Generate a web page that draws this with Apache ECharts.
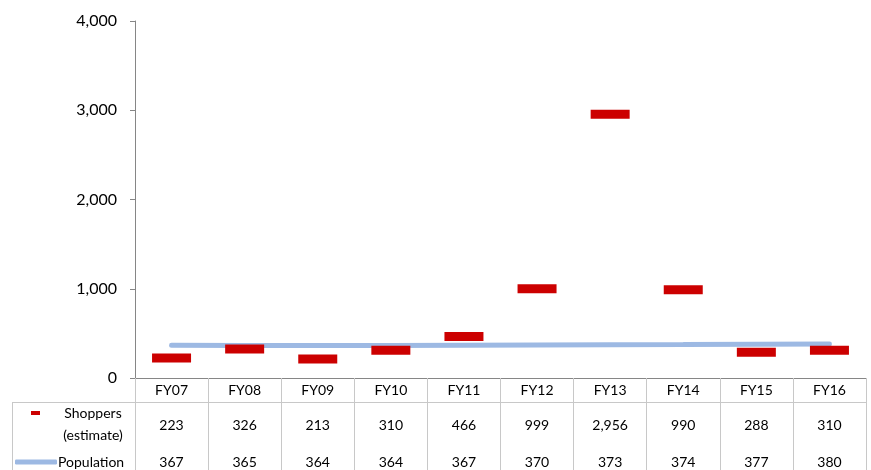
<!DOCTYPE html>
<html><head><meta charset="utf-8">
<script src="https://cdn.jsdelivr.net/npm/echarts@6/dist/echarts.min.js"></script>
<style>html,body{margin:0;padding:0;background:#fff}#c{width:871px;height:470px}</style>
</head><body><div id="c"></div>
<script>
const categories = ['FY07','FY08','FY09','FY10','FY11','FY12','FY13','FY14','FY15','FY16'];
const shoppers = [223, 326, 213, 310, 466, 999, 2956, 990, 288, 310];
const population = [367, 365, 364, 364, 367, 370, 373, 374, 377, 380];
const yTicks = [0, 1000, 2000, 3000, 4000];

const FONT = 'Lato';
const fmt = v => v.toLocaleString('en-US');
const chart = echarts.init(document.getElementById('c'));
chart.setOption({
  animation: false,
  textStyle: {fontFamily: FONT},
  grid: {left: 135, right: 5, top: 21, bottom: 92, containLabel: false},
  legend: [
    {data: [{name: 'Shoppers (estimate)', icon: 'rect'}], left: 26, top: 379,
     itemWidth: 9, itemHeight: 4, padding: 5,
     formatter: () => '{a| }\n{a|Shoppers}\n{a|(estimate)}',
     textStyle: {rich: {a: {width: 96, align: 'center', fontSize: 14, lineHeight: 22, color: '#000', fontFamily: FONT}}}},
    {data: [{name: 'Population', icon: 'roundRect'}], left: 10, top: 450,
     itemWidth: 42, itemHeight: 5, padding: 5,
     textStyle: {fontSize: 14, color: '#000', fontFamily: FONT, padding: [0, 0, 0, -4]}}
  ],
  xAxis: [
    {type: 'category', data: categories, gridIndex: 0,
     axisLine: {lineStyle: {color: '#868686', width: 1}},
     axisTick: {show: true, length: 100, interval: 0, lineStyle: {color: '#C8C8C8'}},
     axisLabel: {fontSize: 14, color: '#000', margin: 5, interval: 0}},
    {type: 'category', data: shoppers.map(fmt), gridIndex: 0, position: 'bottom', offset: 40,
     axisLine: {show: false}, axisTick: {show: false},
     axisLabel: {fontSize: 14, color: '#000', margin: 0, interval: 0}},
    {type: 'category', data: population.map(fmt), gridIndex: 0, position: 'bottom', offset: 77,
     axisLine: {show: false}, axisTick: {show: false},
     axisLabel: {fontSize: 14, color: '#000', margin: 0, interval: 0}}
  ],
  yAxis: {type: 'value', min: yTicks[0], max: yTicks[yTicks.length - 1], interval: 1000,
    axisLine: {show: true, lineStyle: {color: '#868686'}},
    axisTick: {show: true, length: 5, lineStyle: {color: '#868686'}},
    splitLine: {show: false},
    axisLabel: {fontSize: 16, color: '#000', margin: 18, formatter: v => fmt(v)}},
  series: [
    {name: 'Shoppers (estimate)', type: 'scatter', data: shoppers, symbol: 'rect',
     symbolSize: [39, 9], itemStyle: {color: '#CC0000', opacity: 1}, z: 3},
    {name: 'Population', type: 'line', data: population, showSymbol: false, symbol: 'none',
     color: '#9DB9E3', lineStyle: {color: '#9DB9E3', width: 5, cap: 'round'}, z: 2}
  ],
  graphic: [
    {type: 'line', shape: {x1: 12, y1: 402.5, x2: 866, y2: 402.5}, style: {stroke: '#C8C8C8', lineWidth: 1}, silent: true},
    {type: 'line', shape: {x1: 12.5, y1: 402, x2: 12.5, y2: 470}, style: {stroke: '#C8C8C8', lineWidth: 1}, silent: true}
  ]
});
</script></body></html>
